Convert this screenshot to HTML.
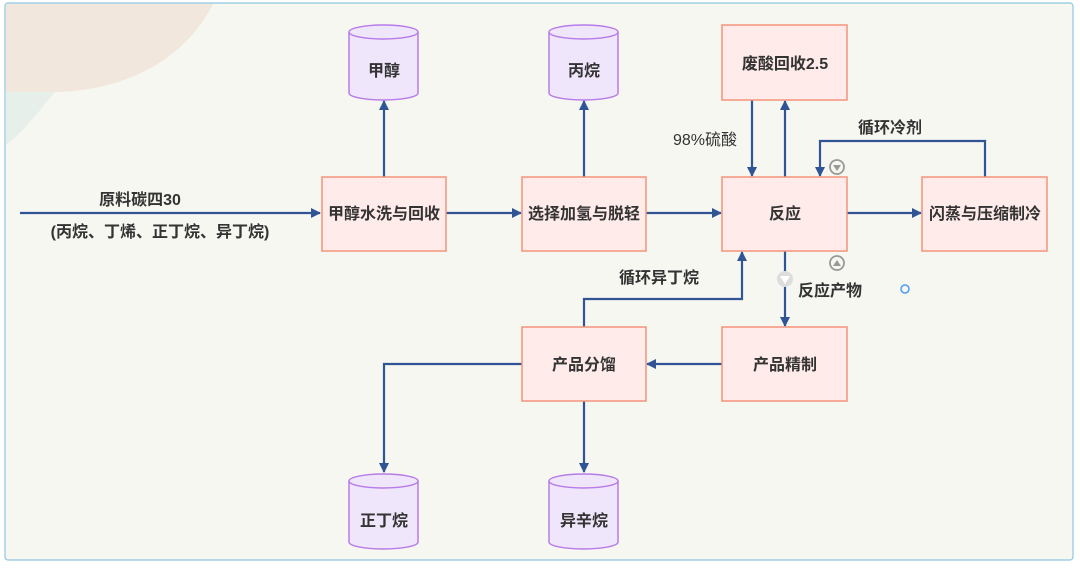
<!DOCTYPE html>
<html><head><meta charset="utf-8"><style>
html,body{margin:0;padding:0;background:#fff;}
svg{display:block;}
text{font-family:"Liberation Sans","Noto Sans CJK SC",sans-serif;font-size:16px;fill:#333;font-weight:bold;}
</style></head><body>
<svg width="1080" height="569" viewBox="0 0 1080 569" xmlns="http://www.w3.org/2000/svg">
<defs>
<marker id="a" markerWidth="10" markerHeight="10" refX="9" refY="5" orient="auto" markerUnits="userSpaceOnUse">
<path d="M0,0 L10,5 L0,10 Z" fill="#2f5597"/></marker>
</defs>
<rect x="0" y="0" width="1080" height="569" fill="#fff"/>
<rect x="5" y="3" width="1068" height="557" rx="3" fill="#f7f7f2" stroke="#8cc7e0" stroke-width="1.2"/>
<clipPath id="c"><rect x="6" y="4" width="1066" height="555"/></clipPath>
<g clip-path="url(#c)">
<path d="M6,4 L213,4 C190,50 140,88 60,92 L6,92 Z" fill="#f1e7dc"/>
<path d="M6,92 L55,92 C40,110 25,130 6,145 Z" fill="#e6efea"/>
</g>
<g fill="none" stroke="#2f5597" stroke-width="2.2">
<line x1="20" y1="213" x2="320" y2="213" marker-end="url(#a)"/>
<line x1="384" y1="177" x2="384" y2="101" marker-end="url(#a)"/>
<line x1="446" y1="213" x2="521" y2="213" marker-end="url(#a)"/>
<line x1="584" y1="177" x2="584" y2="101" marker-end="url(#a)"/>
<line x1="646" y1="213" x2="721" y2="213" marker-end="url(#a)"/>
<line x1="752" y1="100" x2="752" y2="176" marker-end="url(#a)"/>
<line x1="785" y1="177" x2="785" y2="101" marker-end="url(#a)"/>
<polyline points="985,177 985,141 820,141 820,176" marker-end="url(#a)"/>
<line x1="847" y1="213" x2="921" y2="213" marker-end="url(#a)"/>
<line x1="785" y1="251" x2="785" y2="326" marker-end="url(#a)"/>
<line x1="722" y1="364" x2="647" y2="364" marker-end="url(#a)"/>
<polyline points="584,327 584,299 742,299 742,252" marker-end="url(#a)"/>
<polyline points="522,364 384,364 384,472" marker-end="url(#a)"/>
<line x1="584" y1="401" x2="584" y2="472" marker-end="url(#a)"/>
</g>
<g fill="#ffecea" stroke="#f4947a" stroke-width="1.5">
<rect x="322" y="177" width="124" height="74"/>
<rect x="522" y="177" width="124" height="74"/>
<rect x="722" y="177" width="125" height="74"/>
<rect x="922" y="177" width="125" height="74"/>
<rect x="722" y="25" width="125" height="75"/>
<rect x="522" y="327" width="124" height="74"/>
<rect x="722" y="327" width="125" height="74"/>
</g>
<g fill="#f0e6fb" stroke="#b77ce8" stroke-width="1.5">
<path d="M349,32 A34.5,7 0 0 1 418,32 L418,93 A34.5,7 0 0 1 349,93 Z"/><path d="M349,32 A34.5,7 0 0 0 418,32" fill="none"/>
<path d="M549,32 A34.5,7 0 0 1 618,32 L618,93 A34.5,7 0 0 1 549,93 Z"/><path d="M549,32 A34.5,7 0 0 0 618,32" fill="none"/>
<path d="M349,481 A34.5,7 0 0 1 418,481 L418,542 A34.5,7 0 0 1 349,542 Z"/><path d="M349,481 A34.5,7 0 0 0 418,481" fill="none"/>
<path d="M549,481 A34.5,7 0 0 1 618,481 L618,542 A34.5,7 0 0 1 549,542 Z"/><path d="M549,481 A34.5,7 0 0 0 618,481" fill="none"/>
</g>
<g text-anchor="middle">
<text x="384" y="76">甲醇</text>
<text x="584" y="76">丙烷</text>
<text x="384" y="526">正丁烷</text>
<text x="584" y="526">异辛烷</text>
<text x="384" y="219">甲醇水洗与回收</text>
<text x="584" y="219">选择加氢与脱轻</text>
<text x="785" y="219">反应</text>
<text x="985" y="219">闪蒸与压缩制冷</text>
<text x="785" y="69">废酸回收2.5</text>
<text x="584" y="370">产品分馏</text>
<text x="785" y="370">产品精制</text>
<text x="140" y="205">原料碳四30</text>
<text x="160" y="237">(丙烷、丁烯、正丁烷、异丁烷)</text>
<text x="705" y="145" style="font-weight:normal">98%硫酸</text>
<text x="890" y="133">循环冷剂</text>
<text x="659" y="283">循环异丁烷</text>
<text x="830" y="296">反应产物</text>
</g>
<g fill="none" stroke="#999" stroke-width="1.8">
<circle cx="837" cy="167" r="7"/><circle cx="837" cy="263" r="7"/>
</g>
<path d="M833,165 L841,165 L837,171 Z" fill="#999"/>
<path d="M833,266 L841,266 L837,260 Z" fill="#999"/>
<circle cx="785" cy="279" r="8" fill="#ddd"/>
<path d="M780,276 L790,276 L785,284 Z" fill="#fff"/>
<circle cx="905" cy="289" r="4" fill="none" stroke="#4a9cf0" stroke-width="1.5"/>
</svg>
</body></html>
